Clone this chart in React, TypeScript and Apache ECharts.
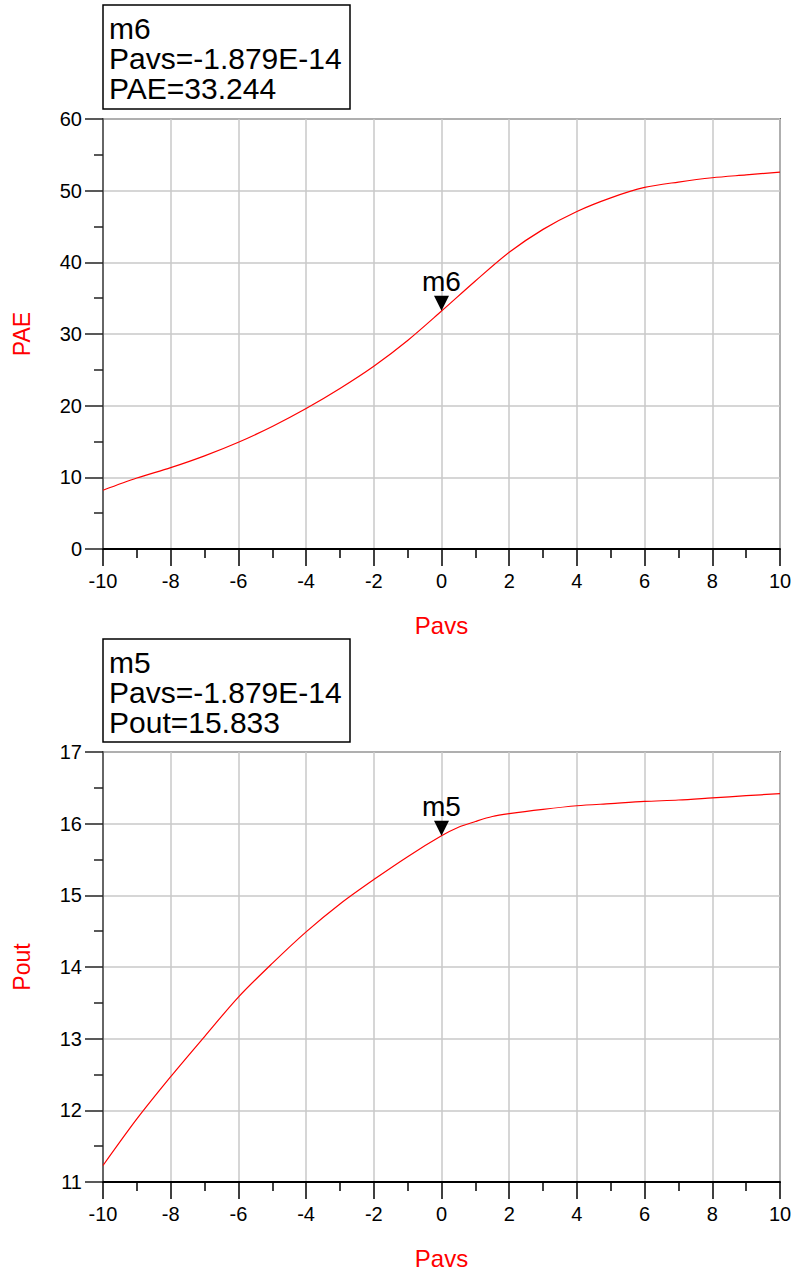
import React, { useEffect, useRef } from "react";
import * as echarts from "echarts";

// ---- data ----
const paeX = [-10, -9, -8, -7, -6, -5, -4, -3, -2, -1, 0, 1, 2, 3, 4, 5, 6, 7, 8, 9, 10];
const paeY = [8.2, 9.9, 11.35, 13.0, 14.9, 17.1, 19.6, 22.4, 25.5, 29.1, 33.2, 37.4, 41.4, 44.6, 47.1, 49.0, 50.45, 51.2, 51.8, 52.2, 52.6];

const poutX = [-10, -9, -8, -7, -6, -5, -4, -3, -2, -1, 0, 0.5, 1, 1.5, 2, 3, 4, 5, 6, 7, 8, 9, 10];
const poutY = [11.23, 11.88, 12.47, 13.03, 13.58, 14.05, 14.49, 14.88, 15.22, 15.54, 15.83, 15.95, 16.03, 16.1, 16.14, 16.2, 16.25, 16.28, 16.31, 16.33, 16.36, 16.39, 16.42];

const markerPAE = { name: "m6", x: -1.879e-14, y: 33.244 };
const markerPout = { name: "m5", x: -1.879e-14, y: 15.833 };

const boxPAE = ["m6", "Pavs=-1.879E-14", "PAE=33.244"];
const boxPout = ["m5", "Pavs=-1.879E-14", "Pout=15.833"];

const FONT = "'Liberation Sans', Arial, Helvetica, sans-serif";

export default function App() {
  const ref = useRef<HTMLDivElement>(null);

  useEffect(() => {
    document.body.style.margin = "0";
    if (!ref.current) return;
    const chart = echarts.init(ref.current, undefined, { renderer: "svg" });

    const xAxisCommon = (gridIndex: number) => ({
      type: "value",
      gridIndex,
      min: -10,
      max: 10,
      interval: 2,
      name: "Pavs",
      nameLocation: "middle",
      nameGap: 64,
      nameTextStyle: { color: "#ff0000", fontSize: 24, fontFamily: FONT },
      axisLine: { show: true, onZero: false, lineStyle: { color: "#000", width: 2 } },
      axisTick: { show: true, inside: false, length: 17, lineStyle: { color: "#000", width: 1.5 } },
      minorTick: { show: true, splitNumber: 2, length: 9, lineStyle: { color: "#000", width: 1.5 } },
      axisLabel: { color: "#000", fontSize: 20, fontFamily: FONT, margin: 22 },
      splitLine: { show: true, lineStyle: { color: "#c8c8c8", width: 1.5 } },
    });

    const yAxisCommon = (gridIndex: number, min: number, max: number, interval: number, name: string) => ({
      type: "value",
      gridIndex,
      min,
      max,
      interval,
      name,
      nameLocation: "middle",
      nameGap: 70,
      nameTextStyle: { color: "#ff0000", fontSize: 23, fontFamily: FONT },
      axisLine: { show: true, onZero: false, lineStyle: { color: "#666", width: 2 } },
      axisTick: { show: true, inside: false, length: 18, lineStyle: { color: "#222", width: 1.5 } },
      minorTick: { show: true, splitNumber: 2, length: 9, lineStyle: { color: "#222", width: 1.5 } },
      axisLabel: { color: "#000", fontSize: 20, fontFamily: FONT, margin: 21 },
      splitLine: { show: true, lineStyle: { color: "#c8c8c8", width: 1.5 } },
    });

    const markPoint = (m: { name: string; x: number; y: number }) => ({
      symbol: "triangle",
      symbolSize: [15, 15],
      symbolRotate: 180,
      symbolOffset: [0, -7.5],
      itemStyle: { color: "#000" },
      label: {
        show: true,
        position: "top",
        distance: 0,
        formatter: m.name,
        color: "#000",
        fontSize: 28,
        fontFamily: FONT,
      },
      data: [{ coord: [m.x, m.y], name: m.name }],
    });

    const boxText = (lines: string[], x: number, y: number, w: number, h: number) => [
      {
        type: "rect",
        shape: { x, y, width: w, height: h },
        style: { fill: "#fff", stroke: "#000", lineWidth: 1.5 },
        z: 10,
      },
      {
        type: "text",
        x: x + 6,
        y: y + 8,
        style: {
          text: lines.join("\n"),
          fill: "#000",
          fontSize: 30,
          fontFamily: FONT,
          lineHeight: 30,
        },
        z: 11,
      },
    ];

    chart.setOption({
      animation: false,
      backgroundColor: "#fff",
      grid: [
        { left: 103, top: 119, width: 677, height: 430, show: true, borderColor: "#666", borderWidth: 2, backgroundColor: "transparent" },
        { left: 103, top: 752, width: 677, height: 430, show: true, borderColor: "#666", borderWidth: 2, backgroundColor: "transparent" },
      ],
      xAxis: [xAxisCommon(0), xAxisCommon(1)],
      yAxis: [yAxisCommon(0, 0, 60, 10, "PAE"), yAxisCommon(1, 11, 17, 1, "Pout")],
      series: [
        {
          type: "line",
          name: "PAE",
          xAxisIndex: 0,
          yAxisIndex: 0,
          data: paeX.map((x, i) => [x, paeY[i]]),
          showSymbol: false,
          smooth: 0.3,
          lineStyle: { color: "#ff0000", width: 1.2 },
          markPoint: markPoint(markerPAE),
        },
        {
          type: "line",
          name: "Pout",
          xAxisIndex: 1,
          yAxisIndex: 1,
          data: poutX.map((x, i) => [x, poutY[i]]),
          showSymbol: false,
          smooth: 0.3,
          lineStyle: { color: "#ff0000", width: 1.2 },
          markPoint: markPoint(markerPout),
        },
      ],
      graphic: [...boxText(boxPAE, 103, 5, 247, 104), ...boxText(boxPout, 103, 639, 247, 103)],
    });

    return () => chart.dispose();
  }, []);

  return <div ref={ref} style={{ width: 796, height: 1276, position: "absolute", left: 0, top: 0 }} />;
}
